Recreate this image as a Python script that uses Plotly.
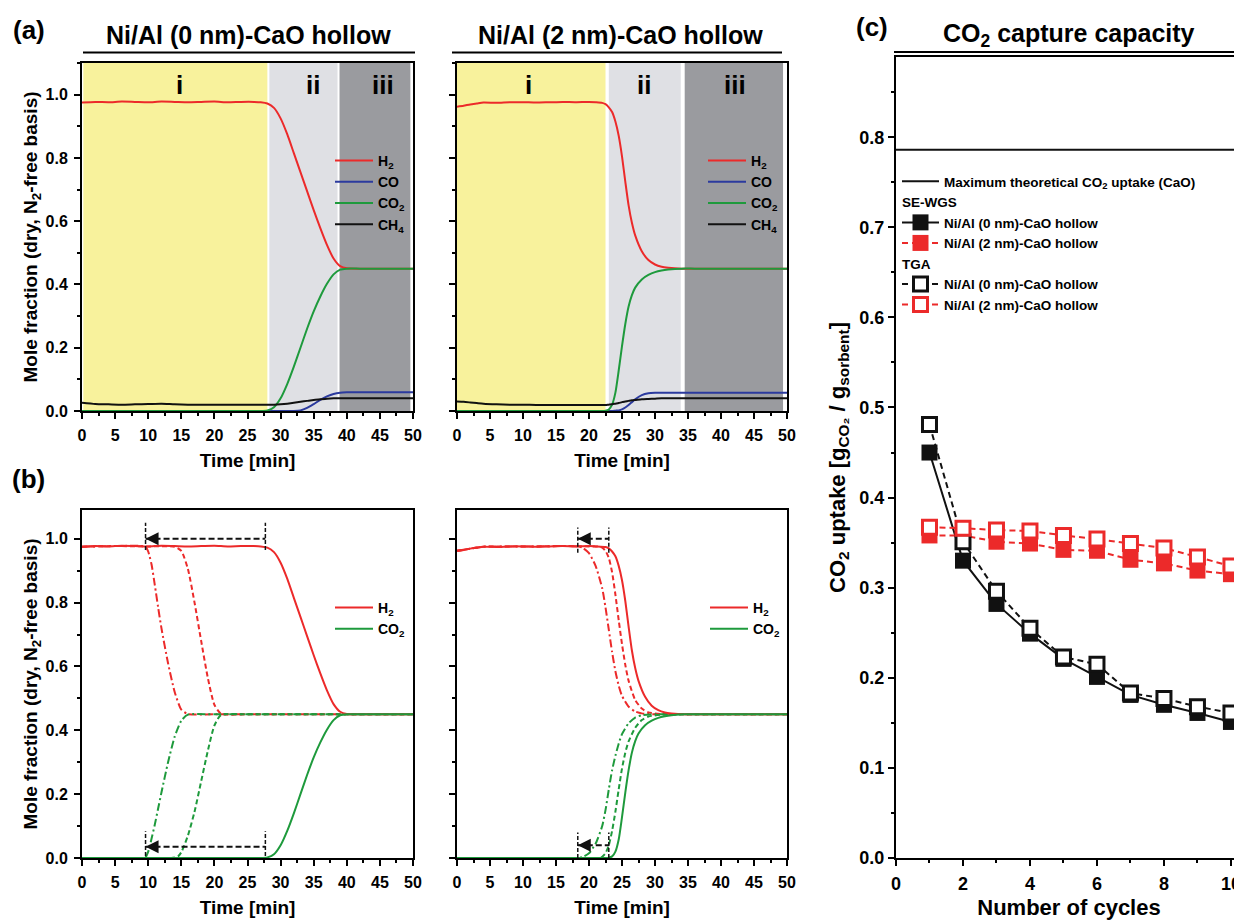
import plotly.graph_objects as go

FONT = "Liberation Sans, Arial, sans-serif"
# the page places the figure 8 px from the top-left corner of the 1242x920 window
OFF = 8
FW, FH = 1242 - OFF, 920 - OFF

# ---------------- data ----------------
# (a) Ni/Al (0 nm)-CaO hollow
t_a0 = [0, 2, 4, 6, 8, 10, 12, 14, 16, 18, 20, 22, 24, 26, 27, 28, 29, 30, 31, 32, 33, 34, 35, 36, 37, 38, 39, 40, 42, 45, 48, 50]
h2_a0 = [0.975, 0.977, 0.976, 0.978, 0.977, 0.976, 0.978, 0.977, 0.976, 0.977, 0.978, 0.976, 0.977, 0.977,
         0.976, 0.972, 0.958, 0.925, 0.875, 0.815, 0.755, 0.695, 0.635, 0.578, 0.525, 0.482, 0.458, 0.451,
         0.45, 0.45, 0.45, 0.45]
co2_a0 = [0, 0, 0, 0, 0, 0, 0, 0, 0, 0, 0, 0, 0, 0,
          0, 0.002, 0.012, 0.04, 0.085, 0.14, 0.20, 0.26, 0.315, 0.362, 0.402, 0.432, 0.447, 0.45,
          0.45, 0.45, 0.45, 0.45]
co_a0 = [0, 0, 0, 0, 0, 0, 0, 0, 0, 0, 0, 0, 0, 0,
         0, 0, 0, 0, 0, 0, 0.002, 0.01, 0.022, 0.035, 0.046, 0.054, 0.058, 0.059,
         0.059, 0.059, 0.059, 0.059]
ch4_a0 = [0.026, 0.022, 0.021, 0.02, 0.021, 0.022, 0.023, 0.021, 0.02, 0.02, 0.02, 0.02, 0.02, 0.02,
          0.02, 0.02, 0.02, 0.021, 0.023, 0.026, 0.029, 0.032, 0.035, 0.037, 0.039, 0.04, 0.04, 0.04,
          0.04, 0.04, 0.04, 0.04]

# (a) Ni/Al (2 nm)-CaO hollow
t_a2 = [0, 1, 2, 3, 4, 6, 8, 10, 12, 14, 16, 18, 20, 21, 22, 22.5, 23, 23.5, 24, 24.5, 25, 25.5, 26, 26.5, 27,
        28, 29, 30, 31, 32, 34, 36, 40, 45, 50]
h2_a2 = [0.962, 0.965, 0.969, 0.972, 0.975, 0.974, 0.976, 0.976, 0.975, 0.976, 0.977, 0.976, 0.977, 0.976,
         0.974, 0.97, 0.96, 0.945, 0.915, 0.87, 0.805, 0.725, 0.65, 0.595, 0.555,
         0.505, 0.477, 0.463, 0.456, 0.453, 0.45, 0.45, 0.45, 0.45, 0.45]
co2_a2 = [0, 0, 0, 0, 0, 0, 0, 0, 0, 0, 0, 0, 0, 0,
          0, 0.001, 0.005, 0.02, 0.058, 0.128, 0.205, 0.275, 0.33, 0.366, 0.39,
          0.416, 0.43, 0.439, 0.444, 0.447, 0.45, 0.45, 0.45, 0.45, 0.45]
co_a2 = [0, 0, 0, 0, 0, 0, 0, 0, 0, 0, 0, 0, 0, 0,
         0, 0, 0, 0, 0.001, 0.002, 0.005, 0.011, 0.019, 0.028, 0.037,
         0.05, 0.056, 0.0575, 0.0575, 0.0575, 0.0575, 0.0575, 0.0575, 0.0575, 0.0575]
ch4_a2 = [0.03, 0.029, 0.027, 0.025, 0.023, 0.021, 0.02, 0.02, 0.019, 0.019, 0.019, 0.019, 0.019, 0.019,
          0.019, 0.019, 0.02, 0.021, 0.023, 0.025, 0.028, 0.03, 0.032, 0.034, 0.035,
          0.037, 0.038, 0.039, 0.04, 0.04, 0.04, 0.04, 0.04, 0.04, 0.04]

# (b) Ni/Al (0 nm): solid = first run (same as a), dashed / dash-dot = later runs
t_b0_h2_dash = [0, 5, 10, 14, 15, 16, 17, 18, 19, 20, 21, 25, 30, 40, 50]
h2_b0_dash = [0.975, 0.977, 0.976, 0.975, 0.962, 0.905, 0.80, 0.68, 0.565, 0.48, 0.452, 0.45, 0.45, 0.45, 0.45]
t_b0_co2_dash = [0, 5, 10, 13.5, 14.5, 15, 16, 17, 18, 19, 20, 21, 25, 30, 40, 50]
co2_b0_dash = [0, 0, 0, 0, 0.005, 0.018, 0.07, 0.145, 0.24, 0.335, 0.415, 0.448, 0.45, 0.45, 0.45, 0.45]
t_b0_h2_dd = [0, 5, 9.6, 10, 10.5, 11, 11.5, 12, 13, 14, 15, 16, 20, 30, 40, 50]
h2_b0_dd = [0.975, 0.977, 0.975, 0.96, 0.92, 0.855, 0.785, 0.72, 0.61, 0.52, 0.465, 0.451, 0.45, 0.45, 0.45, 0.45]
t_b0_co2_dd = [0, 5, 9.5, 10, 10.5, 11, 11.5, 12, 13, 14, 15, 16, 20, 30, 40, 50]
co2_b0_dd = [0, 0, 0, 0.02, 0.06, 0.105, 0.155, 0.205, 0.30, 0.38, 0.43, 0.449, 0.45, 0.45, 0.45, 0.45]

# (b) Ni/Al (2 nm)
t_b2 = [0, 1, 2, 3, 4, 6, 8, 10, 12, 14, 16, 18, 20, 21, 22.5, 23, 23.5, 24, 24.5, 25, 25.5, 26, 26.5, 27, 27.5,
        28.5, 29.5, 30.5, 31.5, 32.5, 34.5, 36, 40, 45, 50]
h2_b2 = h2_a2
co2_b2 = co2_a2
t_b2_h2_dash = [0, 2, 4, 8, 12, 16, 20, 21.5, 22, 22.5, 23, 23.5, 24, 24.5, 25, 25.5, 26, 27, 28, 29, 31, 35, 40, 50]
h2_b2_dash = [0.962, 0.969, 0.975, 0.976, 0.976, 0.977, 0.976, 0.975, 0.972, 0.962, 0.94, 0.895, 0.825, 0.745,
              0.67, 0.605, 0.555, 0.495, 0.468, 0.456, 0.451, 0.45, 0.45, 0.45]
t_b2_co2_dash = [0, 10, 20, 21.5, 22, 22.5, 23, 23.5, 24, 24.5, 25, 25.5, 26, 27, 28, 29, 31, 35, 40, 50]
co2_b2_dash = [0, 0, 0, 0, 0.004, 0.015, 0.04, 0.085, 0.145, 0.215, 0.28, 0.33, 0.365, 0.408, 0.432, 0.443,
               0.449, 0.45, 0.45, 0.45]
t_b2_h2_dd = [0, 2, 4, 8, 12, 16, 18.3, 19, 20, 21, 22, 22.5, 23, 23.5, 24, 24.5, 25, 26, 27, 28, 30, 35, 40, 50]
h2_b2_dd = [0.962, 0.969, 0.975, 0.976, 0.976, 0.977, 0.976, 0.972, 0.955, 0.915, 0.845, 0.785, 0.715, 0.645,
            0.585, 0.54, 0.508, 0.474, 0.459, 0.453, 0.45, 0.45, 0.45, 0.45]
t_b2_co2_dd = [0, 10, 18, 19, 20, 21, 22, 22.5, 23, 23.5, 24, 24.5, 25, 26, 27, 28, 30, 35, 40, 50]
co2_b2_dd = [0, 0, 0, 0.003, 0.015, 0.045, 0.10, 0.15, 0.215, 0.275, 0.32, 0.358, 0.388, 0.422, 0.44, 0.447,
             0.45, 0.45, 0.45, 0.45]

# breakthrough shift arrows (new onset, original onset) [min]
shift_b0 = [9.6, 27.7]
shift_b2 = [18.3, 23.0]

# regions i / ii / iii  [start, end] in min
regions_a0 = [[0.2, 28.0], [28.3, 38.6], [38.9, 49.6]]
regions_a2 = [[0.0, 22.5], [23.0, 33.9], [34.5, 49.4]]
region_labels = ["i", "ii", "iii"]
region_label_x_a0 = [14.8, 34.9, 45.5]
region_label_x_a2 = [10.9, 28.4, 42.1]

# (c) CO2 capture capacity
cycles = [1, 2, 3, 4, 5, 6, 7, 8, 9, 10]
sewgs_0nm = [0.45, 0.33, 0.282, 0.249, 0.221, 0.201, 0.181, 0.170, 0.161, 0.151]
sewgs_2nm = [0.358, 0.358, 0.351, 0.349, 0.342, 0.341, 0.331, 0.327, 0.319, 0.315]
tga_0nm = [0.481, 0.351, 0.296, 0.255, 0.223, 0.215, 0.183, 0.177, 0.168, 0.161]
tga_2nm = [0.367, 0.366, 0.364, 0.363, 0.358, 0.354, 0.349, 0.344, 0.334, 0.324]
max_theoretical = 0.786
cycle_axis_span = [0, 11]

# ---------------- styling ----------------
RED = "#ec2a2a"
BLUE = "#2b3a9e"
GREEN = "#1e9a3c"
BLACK = "#111111"
YELLOW = "#f8f29c"
LGRAY = "#dfe0e4"
DGRAY = "#9a9b9f"
DASH = "5px,3px"
DASHDOT = "8px,3px,2px,3px"


def pxx(x):
    return (x - OFF) / FW


def pyy(y):
    return 1 - (y - OFF) / FH


fig = go.Figure()


def add_line(x, y, color, xa, ya, dash="solid", name=None, legend=None, showlegend=False, width=2):
    fig.add_trace(go.Scatter(
        x=x, y=y, mode="lines", name=name, legend=legend, showlegend=showlegend,
        line=dict(color=color, width=width, dash=dash, shape="spline", smoothing=0.6),
        xaxis=xa, yaxis=ya, hoverinfo="skip"))


# panel (a) left
add_line(t_a0, h2_a0, RED, "x", "y", name="H<sub>2</sub>", legend="legend", showlegend=True)
add_line(t_a0, co_a0, BLUE, "x", "y", name="CO", legend="legend", showlegend=True)
add_line(t_a0, co2_a0, GREEN, "x", "y", name="CO<sub>2</sub>", legend="legend", showlegend=True)
add_line(t_a0, ch4_a0, BLACK, "x", "y", name="CH<sub>4</sub>", legend="legend", showlegend=True)
# panel (a) right
add_line(t_a2, h2_a2, RED, "x2", "y2", name="H<sub>2</sub>", legend="legend2", showlegend=True)
add_line(t_a2, co_a2, BLUE, "x2", "y2", name="CO", legend="legend2", showlegend=True)
add_line(t_a2, co2_a2, GREEN, "x2", "y2", name="CO<sub>2</sub>", legend="legend2", showlegend=True)
add_line(t_a2, ch4_a2, BLACK, "x2", "y2", name="CH<sub>4</sub>", legend="legend2", showlegend=True)


# arrows in (b)
def add_shift(xs, xa, ya, level, lo, hi):
    new, old = xs
    for xv in (new, old):
        fig.add_trace(go.Scatter(x=[xv, xv], y=[lo, hi], mode="lines", showlegend=False, hoverinfo="skip",
                                 line=dict(color=BLACK, width=1.5, dash="4px,2px"), xaxis=xa, yaxis=ya))
    fig.add_trace(go.Scatter(x=[new, old], y=[level, level], mode="lines", showlegend=False, hoverinfo="skip",
                             line=dict(color=BLACK, width=2, dash="6px,3px"), xaxis=xa, yaxis=ya))
    fig.add_annotation(x=new, y=level, ax=new + 1.3, ay=level, xref=xa, yref=ya, axref=xa, ayref=ya,
                       text="", showarrow=True, arrowhead=2, arrowsize=1.3, arrowwidth=2, arrowcolor=BLACK)


# panel (b) left
add_line(t_b0_h2_dd, h2_b0_dd, RED, "x3", "y3", dash=DASHDOT)
add_line(t_b0_h2_dash, h2_b0_dash, RED, "x3", "y3", dash=DASH)
add_line(t_b0_co2_dd, co2_b0_dd, GREEN, "x3", "y3", dash=DASHDOT)
add_line(t_b0_co2_dash, co2_b0_dash, GREEN, "x3", "y3", dash=DASH)
add_line(t_a0, h2_a0, RED, "x3", "y3", name="H<sub>2</sub>", legend="legend3", showlegend=True)
add_line(t_a0, co2_a0, GREEN, "x3", "y3", name="CO<sub>2</sub>", legend="legend3", showlegend=True)
add_shift(shift_b0, "x3", "y3", 1.0, 0.965, 1.05)
add_shift(shift_b0, "x3", "y3", 0.035, 0.006, 0.084)

# panel (b) right
add_line(t_b2_h2_dd, h2_b2_dd, RED, "x4", "y4", dash=DASHDOT)
add_line(t_b2_h2_dash, h2_b2_dash, RED, "x4", "y4", dash=DASH)
add_line(t_b2_co2_dd, co2_b2_dd, GREEN, "x4", "y4", dash=DASHDOT)
add_line(t_b2_co2_dash, co2_b2_dash, GREEN, "x4", "y4", dash=DASH)
add_line(t_b2, h2_b2, RED, "x4", "y4", name="H<sub>2</sub>", legend="legend4", showlegend=True)
add_line(t_b2, co2_b2, GREEN, "x4", "y4", name="CO<sub>2</sub>", legend="legend4", showlegend=True)
add_shift(shift_b2, "x4", "y4", 1.0, 0.956, 1.035)
add_shift(shift_b2, "x4", "y4", 0.04, 0.0, 0.08)

# panel (c)
fig.add_trace(go.Scatter(x=cycle_axis_span, y=[max_theoretical, max_theoretical], mode="lines",
                         line=dict(color=BLACK, width=2), name="Maximum theoretical CO<sub>2</sub> uptake (CaO)",
                         legend="legend5", xaxis="x5", yaxis="y5", hoverinfo="skip"))
fig.add_trace(go.Scatter(x=cycles, y=sewgs_0nm, mode="lines+markers", name="Ni/Al (0 nm)-CaO hollow",
                         legendgroup="se", legendgrouptitle=dict(text="SE-WGS"), legend="legend5",
                         line=dict(color=BLACK, width=2),
                         marker=dict(symbol="square", size=16, color=BLACK, line=dict(width=0)),
                         xaxis="x5", yaxis="y5", hoverinfo="skip"))
fig.add_trace(go.Scatter(x=cycles, y=sewgs_2nm, mode="lines+markers", name="Ni/Al (2 nm)-CaO hollow",
                         legendgroup="se", legend="legend5",
                         line=dict(color=RED, width=2, dash="6px,4px"),
                         marker=dict(symbol="square", size=16, color=RED, line=dict(width=0)),
                         xaxis="x5", yaxis="y5", hoverinfo="skip"))
fig.add_trace(go.Scatter(x=cycles, y=tga_0nm, mode="lines+markers", name="Ni/Al (0 nm)-CaO hollow",
                         legendgroup="tga", legendgrouptitle=dict(text="TGA"), legend="legend5",
                         line=dict(color=BLACK, width=2, dash="6px,4px"),
                         marker=dict(symbol="square", size=14, color="white", line=dict(width=3, color=BLACK)),
                         xaxis="x5", yaxis="y5", hoverinfo="skip"))
fig.add_trace(go.Scatter(x=cycles, y=tga_2nm, mode="lines+markers", name="Ni/Al (2 nm)-CaO hollow",
                         legendgroup="tga", legend="legend5",
                         line=dict(color=RED, width=2, dash="6px,4px"),
                         marker=dict(symbol="square", size=14, color="white", line=dict(width=3, color=RED)),
                         xaxis="x5", yaxis="y5", hoverinfo="skip"))


# ---------------- axes ----------------
def tfont(size):
    return dict(family=FONT, size=size, color="black", weight="bold")


def axis(domain, rng, dtick, minor_dtick, anchor, fmt=None, labels=True, title=None, tsize=16,
         titlesize=19, standoff=10, mirror=True, lstand=0):
    d = dict(domain=domain, range=rng, dtick=dtick, tick0=0, anchor=anchor, showline=True, linewidth=2,
             linecolor="black", mirror=mirror, ticks="outside", ticklen=6, tickwidth=2, tickcolor="black",
             showgrid=False, zeroline=False, showticklabels=labels, tickfont=tfont(tsize), automargin=False,
             ticklabelstandoff=lstand,
             minor=dict(dtick=minor_dtick, tick0=0, ticks="outside", ticklen=3, tickwidth=2, tickcolor="black"))
    if fmt:
        d["tickformat"] = fmt
    if title:
        d["title"] = dict(text=title, font=tfont(titlesize), standoff=standoff)
    return d


XA0 = [pxx(82), pxx(413)]
XA2 = [pxx(457), pxx(787)]
XC = [pxx(896), 1.0]
YA = [pyy(411), pyy(63)]
YB = [pyy(858), pyy(510)]
YC = [pyy(858), pyy(57)]
ytitle = "Mole fraction (dry, N<sub>2</sub>-free basis)"

fig.update_layout(
    xaxis=axis(XA0, [0, 50], 5, 2.5, "y", title="Time [min]", lstand=3),
    yaxis=axis(YA, [0, 1.1], 0.2, 0.1, "x", fmt=".1f", title=ytitle, standoff=3, lstand=3),
    xaxis2=axis(XA2, [0, 50], 5, 2.5, "y2", title="Time [min]", lstand=3),
    yaxis2=axis(YA, [0, 1.1], 0.2, 0.1, "x2", labels=False),
    xaxis3=axis(XA0, [0, 50], 5, 2.5, "y3", title="Time [min]", lstand=3),
    yaxis3=axis(YB, [0, 1.09], 0.2, 0.1, "x3", fmt=".1f", title=ytitle, standoff=3, lstand=3),
    xaxis4=axis(XA2, [0, 50], 5, 2.5, "y4", title="Time [min]", lstand=3),
    yaxis4=axis(YB, [0, 1.09], 0.2, 0.1, "x4", labels=False),
    xaxis5=axis(XC, [0, 10.33], 2, 1, "y5", title="Number of cycles", tsize=18, titlesize=22, standoff=8,
                lstand=2),
    yaxis5=axis(YC, [0, 0.889], 0.1, 0.05, "x5", fmt=".1f", tsize=18, titlesize=22, standoff=8,
                mirror=False,
                title="CO<sub>2</sub> uptake [g<sub>CO₂</sub> / g<sub>sorbent</sub>]"),
)


# ---------------- legends ----------------
def leg(x, y, size, iw=30):
    return dict(x=pxx(x), y=pyy(y), xanchor="left", yanchor="top", bgcolor="rgba(0,0,0,0)",
                borderwidth=0, font=tfont(size), tracegroupgap=0, itemwidth=iw,
                grouptitlefont=tfont(size))


fig.update_layout(legend=leg(330, 145, 14, 38), legend2=leg(703, 145, 14, 38),
                  legend3=leg(330, 592, 14, 38), legend4=leg(705, 592, 14, 38),
                  legend5=leg(897, 166, 13.5, 37))

# ---------------- shapes: regions & title rules ----------------
shapes = []
for regs, xr in ((regions_a0, "x"), (regions_a2, "x2")):
    for (x0, x1), col in zip(regs, (YELLOW, LGRAY, DGRAY)):
        shapes.append(dict(type="rect", xref=xr, yref="y domain" if xr == "x" else "y2 domain",
                           x0=x0, x1=x1, y0=0, y1=1, fillcolor=col, line=dict(width=0), layer="below"))
for x0, x1, y in ((83, 415, 52.5), (452, 782, 52.5), (894, 1242, 52)):
    shapes.append(dict(type="line", xref="paper", yref="paper", x0=pxx(x0), x1=pxx(x1), y0=pyy(y), y1=pyy(y),
                       line=dict(color="black", width=2)))
fig.update_layout(shapes=shapes)

# ---------------- annotations ----------------
for lab, xv in zip(region_labels, region_label_x_a0):
    fig.add_annotation(x=xv, y=1.03, xref="x", yref="y", text=lab, showarrow=False, font=tfont(26))
for lab, xv in zip(region_labels, region_label_x_a2):
    fig.add_annotation(x=xv, y=1.03, xref="x2", yref="y2", text=lab, showarrow=False, font=tfont(26))

for txt, x, y, s in (("(a)", 29, 30, 26), ("(b)", 28, 479, 26), ("(c)", 872, 27, 26),
                     ("Ni/Al (0 nm)-CaO hollow", 248, 35, 25), ("Ni/Al (2 nm)-CaO hollow", 620, 35, 25),
                     ("CO<sub>2</sub> capture capacity", 1069, 35, 25)):
    fig.add_annotation(x=pxx(x), y=pyy(y), xref="paper", yref="paper", text=txt, showarrow=False,
                       font=tfont(s), xanchor="center", yanchor="middle")

fig.update_layout(width=FW, height=FH, margin=dict(l=0, r=0, t=0, b=0), paper_bgcolor="white",
                  plot_bgcolor="white", font=dict(family=FONT, color="black", weight="bold"))

fig.write_html("out.html")
